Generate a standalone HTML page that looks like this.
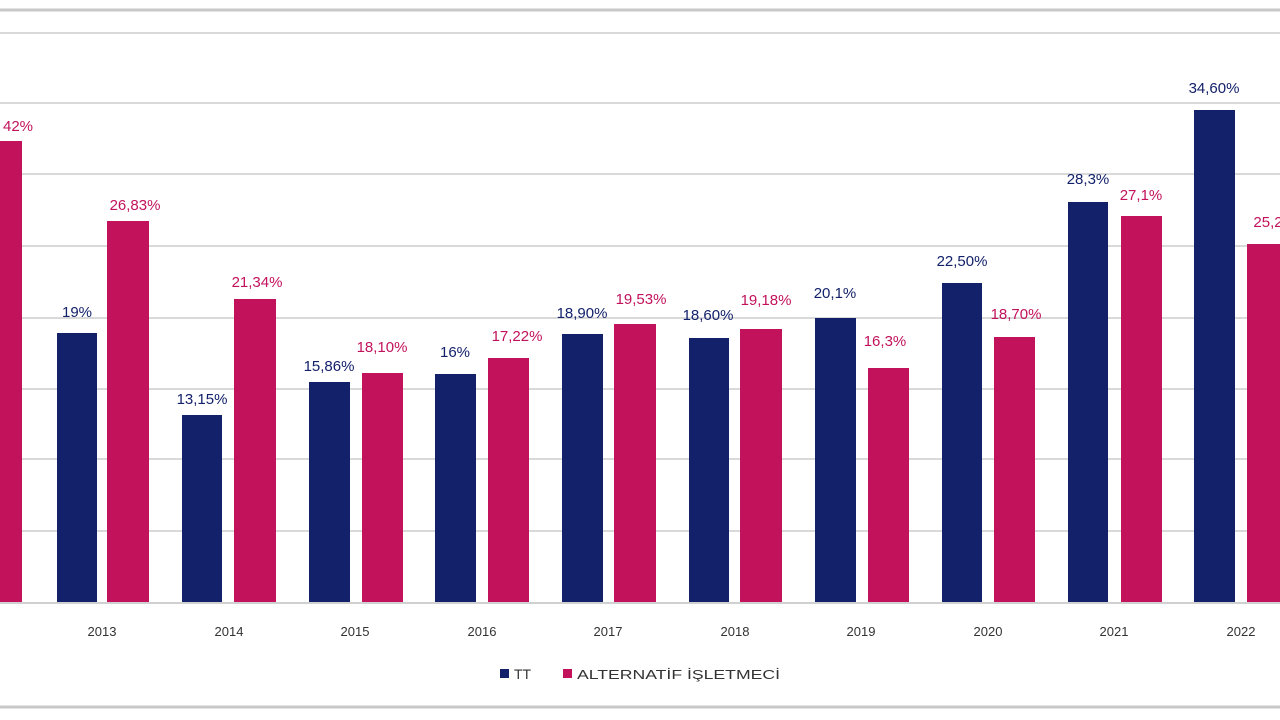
<!DOCTYPE html>
<html><head><meta charset="utf-8"><style>
html,body{margin:0;padding:0;background:#fff;width:1280px;height:720px;overflow:hidden}
text{font-family:"Liberation Sans",sans-serif}
</style></head><body>
<svg width="1280" height="720" xmlns="http://www.w3.org/2000/svg">
<rect width="1280" height="720" fill="#fff"/>
<line x1="0" y1="10" x2="1280" y2="10" stroke="#c8c8c8" stroke-width="3"/>
<line x1="0" y1="707" x2="1280" y2="707" stroke="#c8c8c8" stroke-width="3"/>
<g stroke="#d9d9d9" stroke-width="2">
<line x1="0" y1="33" x2="1280" y2="33"/>
<line x1="0" y1="103" x2="1280" y2="103"/>
<line x1="0" y1="174" x2="1280" y2="174"/>
<line x1="0" y1="246" x2="1280" y2="246"/>
<line x1="0" y1="318" x2="1280" y2="318"/>
<line x1="0" y1="389" x2="1280" y2="389"/>
<line x1="0" y1="459" x2="1280" y2="459"/>
<line x1="0" y1="531" x2="1280" y2="531"/>
</g>
<g fill="#13216a">
<rect x="57" y="333" width="40" height="270"/>
<rect x="182" y="415" width="40" height="188"/>
<rect x="309" y="382" width="41" height="221"/>
<rect x="435" y="374" width="41" height="229"/>
<rect x="562" y="334" width="41" height="269"/>
<rect x="689" y="338" width="40" height="265"/>
<rect x="815" y="318" width="41" height="285"/>
<rect x="942" y="283" width="40" height="320"/>
<rect x="1068" y="202" width="40" height="401"/>
<rect x="1194" y="110" width="41" height="493"/>
</g>
<g fill="#c2125c">
<rect x="0" y="141" width="22" height="462"/>
<rect x="107" y="221" width="42" height="382"/>
<rect x="234" y="299" width="42" height="304"/>
<rect x="362" y="373" width="41" height="230"/>
<rect x="488" y="358" width="41" height="245"/>
<rect x="614" y="324" width="42" height="279"/>
<rect x="740" y="329" width="42" height="274"/>
<rect x="868" y="368" width="41" height="235"/>
<rect x="994" y="337" width="41" height="266"/>
<rect x="1121" y="216" width="41" height="387"/>
<rect x="1247" y="244" width="33" height="359"/>
</g>
<line x1="0" y1="603" x2="1280" y2="603" stroke="#d0d0d0" stroke-width="2"/>
<g fill="#13216a" font-size="15" text-anchor="middle">
<text x="77" y="317">19%</text>
<text x="202" y="404">13,15%</text>
<text x="329" y="371">15,86%</text>
<text x="455" y="357">16%</text>
<text x="582" y="318">18,90%</text>
<text x="708" y="320">18,60%</text>
<text x="835" y="298">20,1%</text>
<text x="962" y="266">22,50%</text>
<text x="1088" y="184">28,3%</text>
<text x="1214" y="93">34,60%</text>
</g>
<g fill="#c2125c" font-size="15" text-anchor="middle">
<text x="18" y="131">42%</text>
<text x="135" y="210">26,83%</text>
<text x="257" y="287">21,34%</text>
<text x="382" y="352">18,10%</text>
<text x="517" y="341">17,22%</text>
<text x="641" y="304">19,53%</text>
<text x="766" y="305">19,18%</text>
<text x="885" y="346">16,3%</text>
<text x="1016" y="319">18,70%</text>
<text x="1141" y="200">27,1%</text>
<text x="1268" y="227">25,2</text>
</g>
<g fill="#333" font-size="13" text-anchor="middle">
<text x="102" y="636">2013</text>
<text x="229" y="636">2014</text>
<text x="355" y="636">2015</text>
<text x="482" y="636">2016</text>
<text x="608" y="636">2017</text>
<text x="735" y="636">2018</text>
<text x="861" y="636">2019</text>
<text x="988" y="636">2020</text>
<text x="1114" y="636">2021</text>
<text x="1241" y="636">2022</text>
</g>
<rect x="500" y="669" width="9" height="9" fill="#13216a"/>
<text x="514" y="679" font-size="14" fill="#333">TT</text>
<rect x="563" y="669" width="9" height="9" fill="#c2125c"/>
<text x="577" y="679" font-size="13" fill="#333" textLength="203" lengthAdjust="spacingAndGlyphs">ALTERNATİF İŞLETMECİ</text>
</svg>
</body></html>
